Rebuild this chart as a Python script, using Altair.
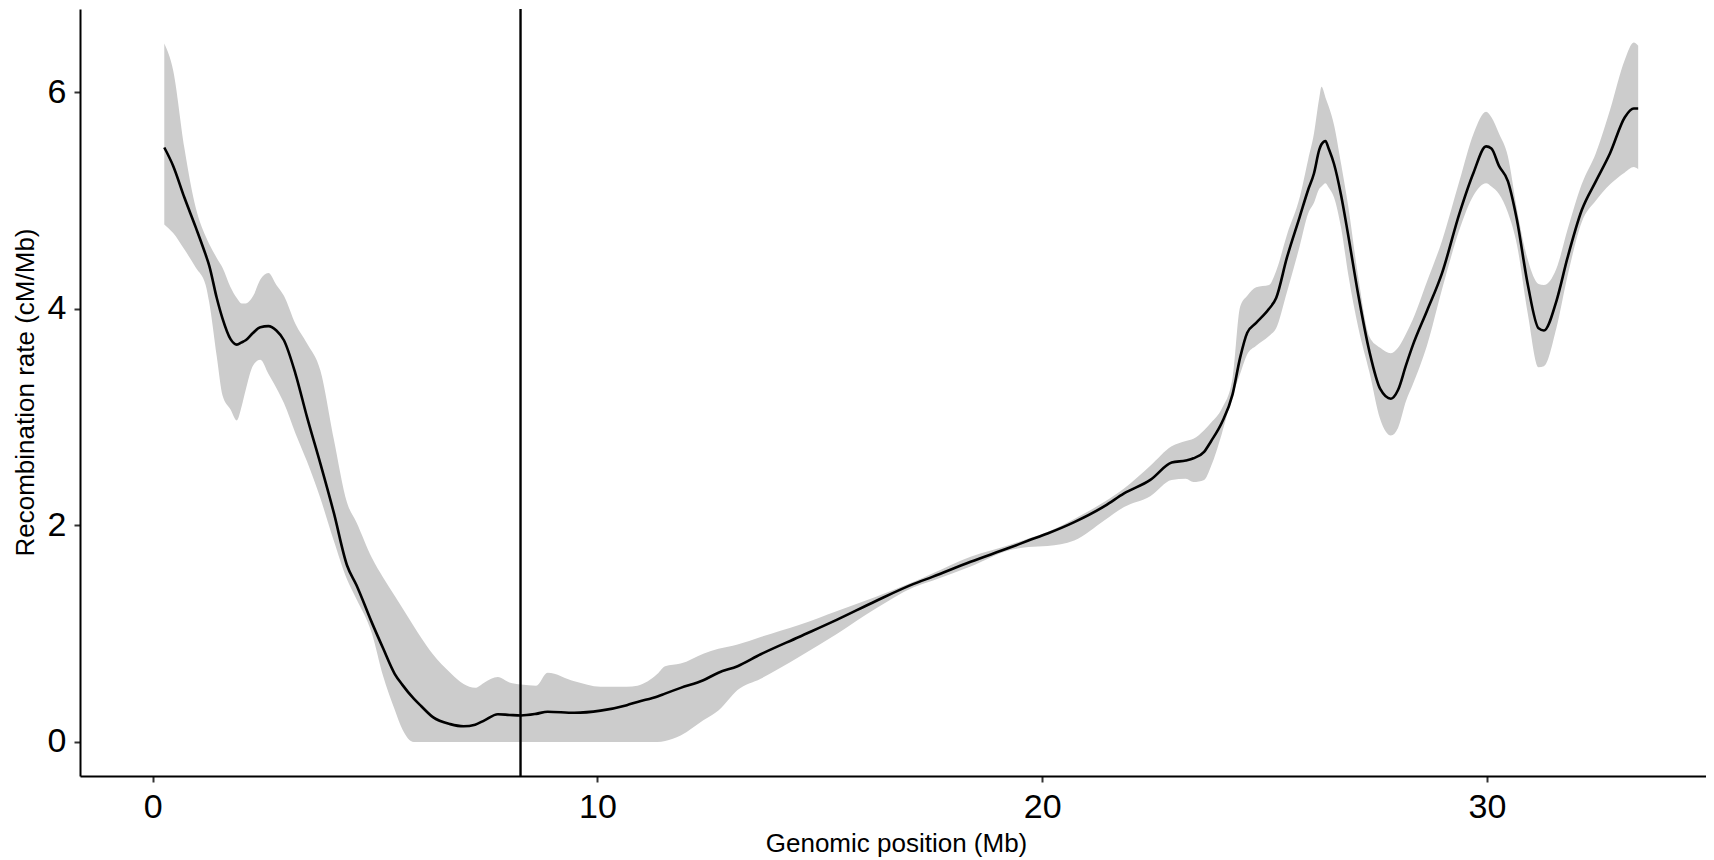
import altair as alt
import pandas as pd

# Genomic position (Mb) grid at which the curve and band were read
position_mb = [
    0.26, 0.46, 0.71, 0.97, 1.19, 1.27, 1.44, 1.57, 1.75, 1.89, 2.00, 2.09, 2.26, 2.42, 2.60,
    2.78, 2.95, 3.21, 3.47, 3.77, 4.07, 4.37, 4.58, 4.93, 5.18, 5.44, 5.61, 5.87, 6.04, 6.30,
    6.69, 6.99, 7.25, 7.46, 7.76, 8.02, 8.28, 8.62, 8.88, 9.48, 10.07, 10.66, 10.90, 11.35, 11.52,
    11.87, 12.38, 12.72, 13.15, 13.67, 14.53, 15.39, 16.25, 17.11, 17.53, 18.39, 19.26, 19.69, 20.12, 20.72,
    21.41, 21.84, 22.43, 22.91, 23.23, 23.40, 23.64, 23.80, 24.04, 24.28, 24.45, 24.61, 24.81, 25.10, 25.26,
    25.50, 25.79, 25.98, 26.11, 26.23, 26.28, 26.37, 26.44, 26.56, 26.72, 26.88, 27.11, 27.36, 27.60, 27.84,
    28.00, 28.18, 28.33, 28.65, 28.99, 29.38, 29.70, 29.98, 30.10, 30.27, 30.47, 30.67, 30.92, 31.16, 31.28,
    31.56, 31.81, 32.13, 32.45, 32.77, 33.10, 33.30, 33.40,
]

# Smoothed recombination rate (cM/Mb)
rate_mean = [
    5.49, 5.32, 5.03, 4.75, 4.50, 4.40, 4.10, 3.91, 3.72, 3.67, 3.69, 3.71, 3.78, 3.83, 3.84,
    3.80, 3.71, 3.40, 3.00, 2.57, 2.12, 1.63, 1.45, 1.10, 0.865, 0.63, 0.53, 0.40, 0.33, 0.23,
    0.165, 0.145, 0.16, 0.20, 0.256, 0.25, 0.245, 0.26, 0.28, 0.27, 0.29, 0.34, 0.37, 0.42, 0.447,
    0.50, 0.57, 0.64, 0.70, 0.81, 0.97, 1.13, 1.30, 1.46, 1.525, 1.664, 1.793, 1.86, 1.925, 2.03,
    2.18, 2.295, 2.42, 2.58, 2.60, 2.62, 2.68, 2.78, 2.95, 3.21, 3.55, 3.78, 3.87, 4.00, 4.10,
    4.47, 4.85, 5.10, 5.25, 5.47, 5.52, 5.55, 5.48, 5.34, 5.05, 4.68, 4.12, 3.60, 3.26, 3.17,
    3.25, 3.48, 3.66, 3.98, 4.33, 4.88, 5.26, 5.50, 5.48, 5.32, 5.18, 4.83, 4.22, 3.82, 3.80,
    4.07, 4.47, 4.91, 5.18, 5.44, 5.77, 5.85, 5.85,
]

# Lower edge of the confidence band
rate_lower = [
    4.78, 4.70, 4.55, 4.38, 4.22, 4.06, 3.56, 3.20, 3.07, 2.97, 3.10, 3.25, 3.48, 3.53, 3.40,
    3.27, 3.13, 2.85, 2.59, 2.25, 1.86, 1.50, 1.32, 1.00, 0.61, 0.30, 0.12, 0.00, 0.00, 0.00,
    0.00, 0.00, 0.00, 0.00, 0.00, 0.00, 0.00, 0.00, 0.00, 0.00, 0.00, 0.00, 0.00, 0.00, 0.01,
    0.06, 0.20, 0.29, 0.48, 0.585, 0.786, 1.00, 1.23, 1.43, 1.49, 1.62, 1.77, 1.80, 1.81, 1.86,
    2.05, 2.17, 2.27, 2.42, 2.43, 2.40, 2.42, 2.55, 2.85, 3.20, 3.40, 3.58, 3.66, 3.75, 3.82,
    4.15, 4.58, 4.88, 4.98, 5.11, 5.13, 5.16, 5.12, 5.03, 4.75, 4.32, 3.82, 3.41, 2.98, 2.83,
    2.90, 3.15, 3.30, 3.66, 4.18, 4.73, 5.05, 5.16, 5.13, 5.06, 4.89, 4.60, 3.95, 3.46, 3.47,
    3.82, 4.30, 4.80, 5.00, 5.15, 5.26, 5.31, 5.29,
]

# Upper edge of the confidence band
rate_upper = [
    6.45, 6.20, 5.49, 4.93, 4.67, 4.60, 4.47, 4.38, 4.20, 4.10, 4.05, 4.05, 4.12, 4.27, 4.33,
    4.22, 4.12, 3.86, 3.68, 3.43, 2.80, 2.21, 2.03, 1.70, 1.52, 1.35, 1.24, 1.07, 0.96, 0.81,
    0.64, 0.535, 0.50, 0.55, 0.60, 0.55, 0.53, 0.52, 0.64, 0.56, 0.51, 0.51, 0.52, 0.63, 0.70,
    0.724, 0.816, 0.86, 0.90, 0.97, 1.08, 1.21, 1.34, 1.48, 1.556, 1.71, 1.82, 1.88, 1.94, 2.06,
    2.22, 2.34, 2.55, 2.73, 2.78, 2.80, 2.88, 2.95, 3.08, 3.36, 4.02, 4.12, 4.20, 4.22, 4.35,
    4.68, 5.03, 5.38, 5.62, 5.95, 6.05, 5.95, 5.87, 5.70, 5.34, 4.95, 4.28, 3.74, 3.64, 3.59,
    3.64, 3.77, 3.90, 4.25, 4.63, 5.18, 5.62, 5.82, 5.77, 5.62, 5.41, 4.93, 4.45, 4.23, 4.22,
    4.37, 4.73, 5.15, 5.44, 5.84, 6.30, 6.46, 6.43,
]

marker_position = [8.27]
x_ticks = [0, 10, 20, 30]
y_ticks = [0, 2, 4, 6]

df = pd.DataFrame({
    "pos": position_mb,
    "mean": rate_mean,
    "lower": rate_lower,
    "upper": rate_upper,
})
vdf = pd.DataFrame({"pos": marker_position})

FONT = "Liberation Sans"

x_scale = alt.Scale(domain=[-1.635, 34.925], nice=False, zero=False)
y_scale = alt.Scale(domain=[-0.314, 6.769], nice=False, zero=False)

x_axis = alt.Axis(
    title="Genomic position (Mb)", values=x_ticks, format="d", grid=False,
    domainColor="black", domainWidth=2, tickColor="#333333", tickWidth=2, tickSize=6,
    labelFont=FONT, labelFontSize=34, labelColor="black", labelPadding=35,
    labelBaseline="alphabetic", labelFlush=False,
    titleFont=FONT, titleFontSize=26, titleFontWeight="normal", titleColor="black",
    titleBaseline="alphabetic", titleX=816, titleY=75,
)
y_axis = alt.Axis(
    title="Recombination rate (cM/Mb)", values=y_ticks, format="d", grid=False,
    domainColor="black", domainWidth=2, tickColor="#333333", tickWidth=2, tickSize=6,
    labelFont=FONT, labelFontSize=34, labelColor="black", labelPadding=8,
    labelFlush=False,
    titleFont=FONT, titleFontSize=26, titleFontWeight="normal", titleColor="black",
    titleBaseline="middle", titleX=-55, titleY=383, titleAngle=-90,
)

band = alt.Chart(df).mark_area(color="#cccccc", opacity=1, interpolate="monotone").encode(
    x=alt.X("pos:Q", scale=x_scale, axis=x_axis),
    y=alt.Y("upper:Q", scale=y_scale, axis=y_axis),
    y2="lower:Q",
)
line = alt.Chart(df).mark_line(color="black", strokeWidth=2.6, interpolate="monotone").encode(
    x=alt.X("pos:Q", scale=x_scale),
    y=alt.Y("mean:Q", scale=y_scale),
)
vline = alt.Chart(vdf).mark_rule(color="black", strokeWidth=2.4).encode(
    x=alt.X("pos:Q", scale=x_scale),
)

chart = alt.layer(band, line, vline).properties(
    width=1626, height=767,
    padding={"left": 72, "top": 1, "right": 0, "bottom": 82},
    autosize="none",
).configure_view(stroke=None)

chart.save("out.html", embed_options={"renderer": "svg", "actions": False})
